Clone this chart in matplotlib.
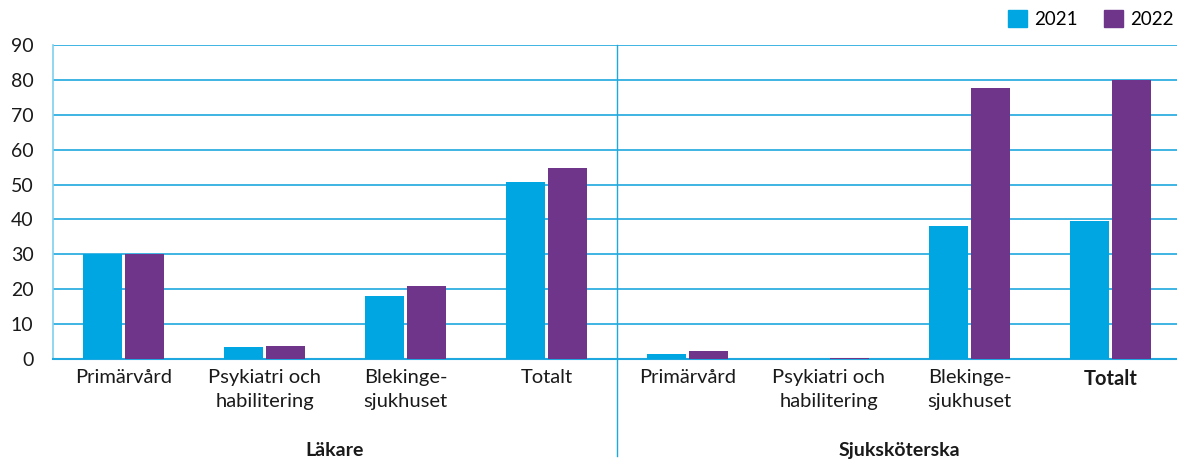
import numpy as np
import matplotlib.pyplot as plt
from matplotlib.patches import Patch

#--------------------- DATA -------------------#
kategorier = ["Primärvård", "Psykiatri och\nhabilitering", "Blekinge-\nsjukhuset", "Totalt",
              "Primärvård", "Psykiatri och\nhabilitering", "Blekinge-\nsjukhuset", "Totalt"]
grupper = ["Läkare", "Sjuksköterska"]
ar_2021 = [30, 3.3, 18, 50.7, 1.4, 0.1, 38.1, 39.5]
ar_2022 = [30, 3.8, 21, 54.8, 2.3, 0.4, 77.7, 80]
yticks = [0, 10, 20, 30, 40, 50, 60, 70, 80, 90]

#--------------------- STYLE -------------------#
plt.rcParams['font.family'] = ['Lato', 'DejaVu Sans']
blue = "#00a6e1"
purple = "#6e358b"
grid = "#1ea8df"
textc = "#1a1a1a"

fig = plt.figure(figsize=(11.77, 4.59), dpi=100)
ax = fig.add_axes([53 / 1177, (459 - 359) / 459, 1 - 53 / 1177, (359 - 45) / 459])

x = np.arange(len(kategorier))
w = 0.277
ax.bar(x - 0.149, ar_2021, width=w, color=blue, zorder=3, label="2021")
ax.bar(x + 0.149, ar_2022, width=w, color=purple, zorder=3, label="2022")

ax.set_xlim(-0.5, 7.47)
ax.set_ylim(0, 90)
ax.set_yticks(yticks)
ax.yaxis.grid(True, color=grid, linewidth=1.2, zorder=0)
ax.set_axisbelow(True)

for s in ["top", "right"]:
    ax.spines[s].set_visible(False)
ax.spines["left"].set_color("#7fd0ef")
ax.spines["left"].set_linewidth(1.2)
ax.spines["bottom"].set_color(grid)
ax.spines["bottom"].set_linewidth(1.5)

ax.set_xticks(x)
ax.set_xticklabels(kategorier, fontsize=14.5, color=textc, linespacing=1.5)
ax.tick_params(axis="both", length=0, colors=textc)
ax.tick_params(axis="x", pad=7)
ax.tick_params(axis="y", pad=14, labelsize=14)
ax.get_xticklabels()[7].set_fontweight("bold")

# skiljelinje mellan grupperna
ax.plot([3.5, 3.5], [1.0, -0.31], transform=ax.get_xaxis_transform(),
        color=grid, linewidth=1.0, clip_on=False, zorder=4)

# grupptitlar
for i, g in enumerate(grupper):
    ax.text(1.5 + 4 * i, -0.29, g, transform=ax.get_xaxis_transform(),
            ha="center", va="center", fontsize=14, fontweight="bold", color=textc)

handles = [Patch(color=blue, label="2021"), Patch(color=purple, label="2022")]
fig.legend(handles=handles, loc="upper right", bbox_to_anchor=(1174 / 1177, 1 - 10 / 459), ncol=2,
           frameon=False, fontsize=13.5, handlelength=1.0, handleheight=1.0,
           handletextpad=0.4, columnspacing=1.4, borderaxespad=0.0, borderpad=0.0)

fig.savefig("out.png", dpi=100)
